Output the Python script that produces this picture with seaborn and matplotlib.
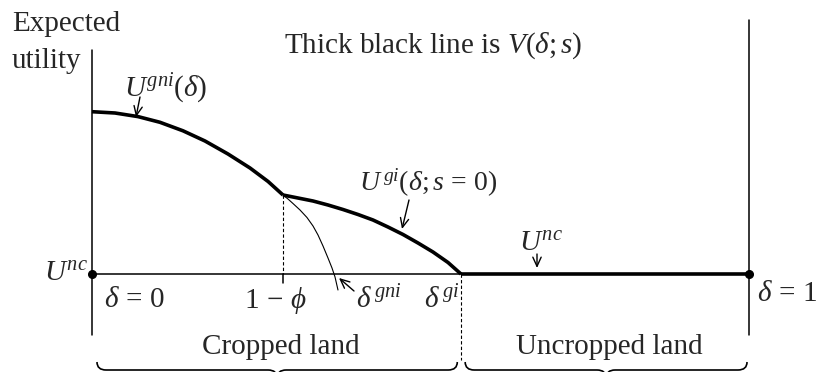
import matplotlib
matplotlib.use("Agg")
import matplotlib.pyplot as plt
from matplotlib.path import Path
from matplotlib.patches import PathPatch
import pandas as pd
import seaborn as sns

# delta runs 0..1 along x; utility is measured from U^nc (= 0)
gni_delta = [0.0, 0.035, 0.070, 0.1035, 0.1385, 0.172, 0.207, 0.2405, 0.268, 0.2907]
gni_util = [1.623, 1.61, 1.574, 1.517, 1.432, 1.33, 1.20, 1.06, 0.925, 0.79]

gi_delta = [0.2907, 0.3135, 0.3364, 0.3592, 0.382, 0.4049, 0.4277, 0.4505,
            0.4734, 0.4962, 0.519, 0.5419, 0.5616]
gi_util = [0.79, 0.76, 0.73, 0.69, 0.645, 0.595, 0.54, 0.47, 0.395, 0.31,
           0.22, 0.115, 0.0]

# thin continuation of U^gni past the kink
gni_tail_delta = [0.2907, 0.2983, 0.3059, 0.3166, 0.3272, 0.3364, 0.344,
                  0.3516, 0.3592, 0.3653, 0.3699, 0.3744]
gni_tail_util = [0.79, 0.75, 0.705, 0.64, 0.565, 0.48, 0.39, 0.28, 0.16,
                 0.06, -0.03, -0.16]

one_minus_phi = 0.2907
delta_gi = 0.5616
u_nc = 0.0

brace_spans = [(0.0076, 0.556), (0.568, 0.997)]
brace_labels = ["Cropped land", "Uncropped land"]

W, H = 822, 372
X0, XSCALE = 92, 657.0     # pixel of delta=0, pixels per unit delta
Y0, YSCALE = 274, 100.0    # pixel of U^nc, pixels per unit utility

sns.set_theme(style="white")
plt.rcParams["font.family"] = ["Liberation Serif", "DejaVu Serif"]
plt.rcParams["mathtext.fontset"] = "custom"
plt.rcParams["mathtext.rm"] = "Liberation Serif"
plt.rcParams["mathtext.it"] = "Liberation Serif:italic"
plt.rcParams["mathtext.bf"] = "Liberation Serif:bold"

fig = plt.figure(figsize=(W / 100, H / 100), dpi=100)
ax = fig.add_axes([0, 0, 1, 1])
ax.set_xlim(-X0 / XSCALE, (W - X0) / XSCALE)
ax.set_ylim((Y0 - H) / YSCALE, Y0 / YSCALE)
ax.axis("off")


def px(x, y):
    # pixel position (top-left origin) -> data coords
    return (x - X0) / XSCALE, (Y0 - y) / YSCALE


thick, thin = 2.6, 1.1

curves = pd.DataFrame({
    "delta": gni_delta + gi_delta,
    "util": gni_util + gi_util,
    "branch": ["gni"] * len(gni_delta) + ["gi"] * len(gi_delta),
})
sns.lineplot(data=curves, x="delta", y="util", units="branch", estimator=None,
             color="black", linewidth=thick, ax=ax, solid_joinstyle="round",
             solid_capstyle="butt")
sns.lineplot(x=gni_tail_delta, y=gni_tail_util, color="black", linewidth=0.8,
             ax=ax, sort=False, solid_joinstyle="round")

# axes: horizontal baseline (thin in cropped part, thick after delta^gi)
ax.plot([0, delta_gi], [u_nc, u_nc], color="black", lw=thin)
ax.plot([delta_gi, 1], [u_nc, u_nc], color="black", lw=thick, solid_capstyle="butt")
ax.plot([0, 1], [u_nc, u_nc], "o", color="black", ms=5.5)
ax.plot(*zip(px(92, 50), px(92, 335)), color="black", lw=thin)
ax.plot(*zip(px(749, 20), px(749, 335)), color="black", lw=thin)

# dashed guides
ax.plot([one_minus_phi, one_minus_phi], [gni_util[-1], u_nc], color="black",
        lw=0.8, ls=(0, (3, 2)))
ax.plot([one_minus_phi, one_minus_phi], [u_nc, px(0, 283)[1]], color="black", lw=thin)
ax.plot([delta_gi, delta_gi], [u_nc, px(0, 360)[1]], color="black",
        lw=0.8, ls=(0, (3, 2)))


def brace(x0, x1):
    xm = (x0 + x1) / 2
    r = 9 / XSCALE
    yt, yl, yb = px(0, 362)[1], px(0, 370)[1], px(0, 378)[1]
    verts = [(x0, yt), (x0, yl), (x0 + r, yl), (xm - r, yl), (xm, yl), (xm, yb),
             (xm, yl), (xm + r, yl), (x1 - r, yl), (x1, yl), (x1, yt)]
    codes = [Path.MOVETO, Path.CURVE3, Path.CURVE3, Path.LINETO, Path.CURVE3,
             Path.CURVE3, Path.CURVE3, Path.CURVE3, Path.LINETO, Path.CURVE3, Path.CURVE3]
    ax.add_patch(PathPatch(Path(verts, codes), fill=False, lw=1.2, color="black"))


fs = 21
for (b0, b1), lab in zip(brace_spans, brace_labels):
    brace(b0, b1)
    ax.text((b0 + b1) / 2 + 0.005, px(0, 347)[1], lab, ha="center", va="center", fontsize=fs)

ax.text(*px(12, 24), "Expected", ha="left", va="center", fontsize=fs)
ax.text(*px(12, 61), "utility", ha="left", va="center", fontsize=fs)
ax.text(*px(284, 46), r"Thick black line is $V(\delta; s)$", ha="left", va="center", fontsize=fs)
ax.text(*px(124, 89), r"$U^{gni}(\delta)$", ha="left", va="center", fontsize=fs)
ax.text(*px(359, 183), r"$U^{\,gi}(\delta; s\,=\,0)$", ha="left", va="center", fontsize=20)
ax.text(*px(519, 244), r"$U^{nc}$", ha="left", va="center", fontsize=fs)
ax.text(*px(44, 274), r"$U^{nc}$", ha="left", va="center", fontsize=fs)
ax.text(*px(104, 300), r"$\delta\,=\,0$", ha="left", va="center", fontsize=fs)
ax.text(*px(244, 300), r"$1\,-\,\phi$", ha="left", va="center", fontsize=fs)
ax.text(*px(356, 300), r"$\delta^{\,gni}$", ha="left", va="center", fontsize=fs)
ax.text(*px(424, 300), r"$\delta^{\,gi}$", ha="left", va="center", fontsize=fs)
ax.text(*px(757, 294), r"$\delta\,=\,1$", ha="left", va="center", fontsize=fs)

arrow = dict(arrowstyle="->,head_length=0.55,head_width=0.25", color="black",
             lw=1.0, shrinkA=0, shrinkB=0)
ax.annotate("", xy=px(136, 117), xytext=px(140, 97), arrowprops=arrow)
ax.annotate("", xy=px(402, 229), xytext=px(409, 200), arrowprops=arrow)
ax.annotate("", xy=px(537, 268), xytext=px(537, 254), arrowprops=arrow)
ax.annotate("", xy=px(339, 278), xytext=px(354, 291), arrowprops=arrow)

fig.savefig("out.png", dpi=100)
